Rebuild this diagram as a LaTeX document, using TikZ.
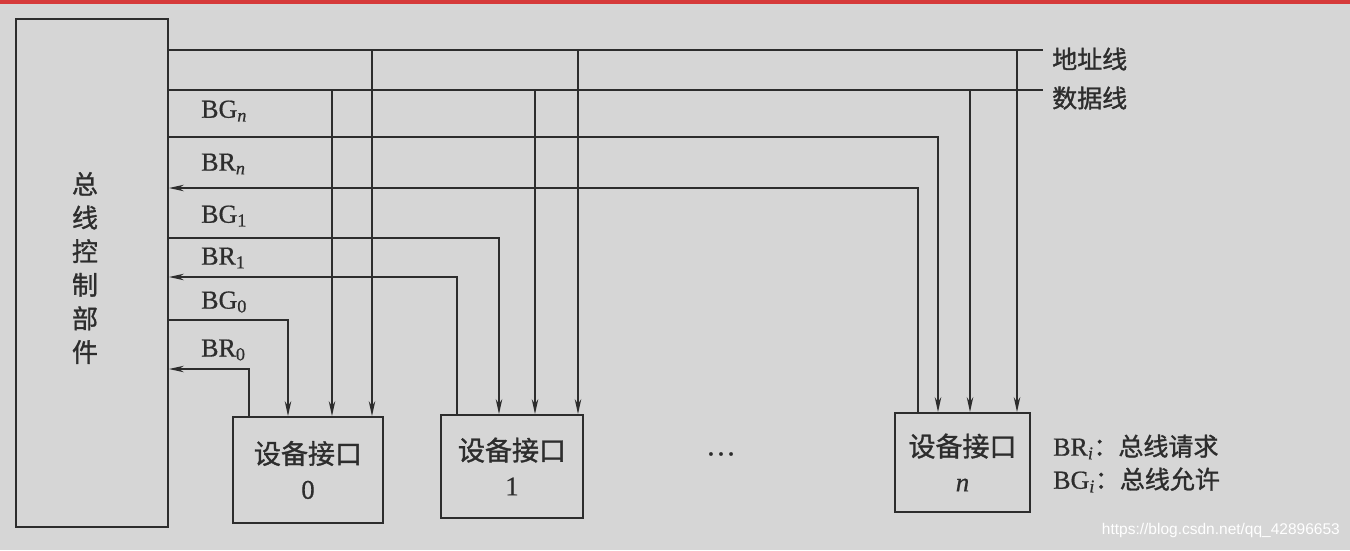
\documentclass[tikz,border=0pt]{standalone}
\usepackage{fontspec}
\setmainfont{Liberation Serif}[FakeBold=0.6]
\newfontfamily\cjk{Noto Sans CJK SC}[FakeBold=1.2]
\newfontfamily\wmfont{Liberation Sans}
\usetikzlibrary{arrows.meta,calc}
\definecolor{bgc}{RGB}{214,214,214}
\definecolor{ink}{RGB}{45,45,45}
\definecolor{redbar}{RGB}{214,58,58}
\begin{document}
\begin{tikzpicture}[x=1pt,y=-1pt,
  wire/.style={ink, line width=1.6pt},
  arr/.style={wire, -{Stealth[length=15pt,width=6.5pt]}},
  boxs/.style={draw=ink, line width=1.8pt, inner sep=0pt, align=center, text=ink,
               font=\fontsize{27}{35}\selectfont},
  sig/.style={anchor=west, inner sep=0pt, text=ink, font=\fontsize{26}{28}\selectfont},
  cjklab/.style={anchor=west, inner sep=0pt, text=ink, font=\cjk\fontsize{25}{28}\selectfont},
]
\fill[bgc] (0,0) rectangle (1350,550);
\fill[redbar] (0,0) rectangle (1350,3.5);
\useasboundingbox (0,0) rectangle (1350,550);

% controller
\node[boxs, minimum width=152pt, minimum height=508pt] (ctrl) at (92,273) {};
\node[text=ink, align=center, inner sep=0pt, font=\cjk\fontsize{26}{33.6}\selectfont] (ctrltext) at (85,268) {总\\线\\控\\制\\部\\件};

% device interfaces
\node[boxs, minimum width=150pt, minimum height=106pt] (b0) at (308,470) {{\cjk 设备接口}\\0};
\node[boxs, minimum width=142pt, minimum height=103pt] (b1) at (512,466.5) {{\cjk 设备接口}\\1};
\node[boxs, minimum width=135pt, minimum height=99pt] (bn) at (962.5,462.5) {{\cjk 设备接口}\\\textit{n}};
\node[text=ink, font=\fontsize{30}{30}\selectfont] (dots) at (721,454) {\dots};

% address and data buses
\coordinate (aend) at (1043,50);
\coordinate (dend) at (1043,90);
\draw[wire] (ctrl.east |- aend) -- (aend);
\draw[wire] (ctrl.east |- dend) -- (dend);
\node[cjklab] (alab) at (1052,59) {地址线};
\node[cjklab] (dlab) at (1052,98) {数据线};

\draw[arr] (372,50 |- aend) -- (372,0 |- b0.north);
\draw[arr] (578,50 |- aend) -- (578,0 |- b1.north);
\draw[arr] (1017,50 |- aend) -- (1017,0 |- bn.north);
\draw[arr] (332,90 |- dend) -- (332,0 |- b0.north);
\draw[arr] (535,90 |- dend) -- (535,0 |- b1.north);
\draw[arr] (970,90 |- dend) -- (970,0 |- bn.north);

% grant / request lines
\draw[arr] (ctrl.east |- 0,137) -| (938,0 |- bn.north);
\draw[arr] (918,0 |- bn.north) |- (ctrl.east |- 0,188);
\draw[arr] (ctrl.east |- 0,238) -| (499,0 |- b1.north);
\draw[arr] (457,0 |- b1.north) |- (ctrl.east |- 0,277);
\draw[arr] (ctrl.east |- 0,320) -| (288,0 |- b0.north);
\draw[arr] (249,0 |- b0.north) |- (ctrl.east |- 0,369);

% signal labels
\node[sig] (lbgn) at (201,111) {BG\textsubscript{\itshape n}};
\node[sig] (lbrn) at (201,164) {BR\textsubscript{\itshape n}};
\node[sig] (lbg1) at (201,216) {BG\textsubscript{1}};
\node[sig] (lbr1) at (201,258) {BR\textsubscript{1}};
\node[sig] (lbg0) at (201,302) {BG\textsubscript{0}};
\node[sig] (lbr0) at (201,350) {BR\textsubscript{0}};

% legend
\node[sig] (leg1) at (1053,447) {BR\textsubscript{\itshape i}{\cjk\fontsize{25}{28}\selectfont ：总线请求}};
\node[sig] (leg2) at (1053,480) {BG\textsubscript{\itshape i}{\cjk\fontsize{25}{28}\selectfont ：总线允许}};

% watermark
\node[anchor=east, inner sep=0pt, text=white, font=\wmfont\fontsize{15.5}{18}\selectfont] (wm) at (1340,530) {https://blog.csdn.net/qq\_42896653};
\end{tikzpicture}
\end{document}
